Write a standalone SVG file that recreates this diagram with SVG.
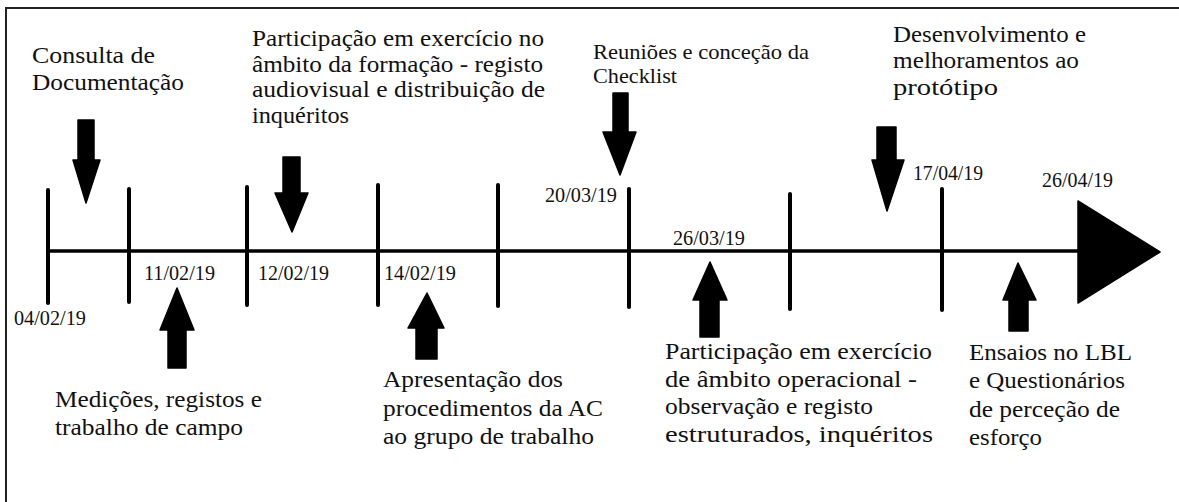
<svg xmlns="http://www.w3.org/2000/svg" width="1179" height="502" viewBox="0 0 1179 502">
<style>
text{font-family:'Liberation Serif','Times New Roman',serif;fill:#111}
.t{font-size:23px}
.s{font-size:21px}
.d{font-size:20px}
.tick{stroke:#000;stroke-width:4;stroke-linecap:round}
.arr{fill:#000;stroke:#000;stroke-width:1.5;stroke-linejoin:round}
</style>
<rect x="0" y="0" width="1179" height="502" fill="#fff"/>
<rect x="6" y="8" width="1250" height="600" fill="none" stroke="#222" stroke-width="2"/>
<g id="timeline">
<line x1="48" y1="251" x2="1082" y2="251" stroke="#000" stroke-width="3.5"/>
<line class="tick" x1="48" y1="190" x2="48" y2="303"/>
<line class="tick" x1="129" y1="189" x2="129" y2="302"/>
<line class="tick" x1="247" y1="187" x2="247" y2="305"/>
<line class="tick" x1="378" y1="185" x2="378" y2="305"/>
<line class="tick" x1="498" y1="185" x2="498" y2="306"/>
<line class="tick" x1="629" y1="189" x2="629" y2="307"/>
<line class="tick" x1="790" y1="194" x2="790" y2="309"/>
<line class="tick" x1="942" y1="189" x2="942" y2="310"/>
<polygon points="1078,201 1160,252 1078,303" fill="#000" stroke="#000" stroke-width="1.5" stroke-linejoin="round"/>
</g>
<g id="connectors">
<polygon class="arr" points="78,120 94,120 94,160 100,160 86,203 73,160 78,160"/>
<polygon class="arr" points="283,157 300,157 300,193 308,193 292,232 275,193 283,193"/>
<polygon class="arr" points="613,93 628,93 628,132 636,132 620,175 603,132 613,132"/>
<polygon class="arr" points="877,127 896,127 896,160 904,160 887,211 872,160 877,160"/>
<polygon class="arr" points="177,288 194,330 186,330 186,368 168,368 168,330 160,330"/>
<polygon class="arr" points="427,293 444,328 437,328 437,359 416,359 416,328 408,328"/>
<polygon class="arr" points="710,262 727,300 719,300 719,337 700,337 700,300 693,300"/>
<polygon class="arr" points="1018,263 1036,300 1028,300 1028,331 1009,331 1009,300 1003,300"/>
</g>
<g id="consulta">
<text class="t" x="32" y="63" textLength="123" lengthAdjust="spacingAndGlyphs">Consulta de</text>
<text class="t" x="32" y="90" textLength="152" lengthAdjust="spacingAndGlyphs">Documentação</text>
</g>
<g id="formacao">
<text class="t" x="252" y="46" textLength="292" lengthAdjust="spacingAndGlyphs">Participação em exercício no</text>
<text class="t" x="252" y="72" textLength="291" lengthAdjust="spacingAndGlyphs">âmbito da formação - registo</text>
<text class="t" x="252" y="97" textLength="293" lengthAdjust="spacingAndGlyphs">audiovisual e distribuição de</text>
<text class="t" x="252" y="123" textLength="97" lengthAdjust="spacingAndGlyphs">inquéritos</text>
</g>
<g id="reunioes">
<text class="s" x="593" y="59" textLength="216" lengthAdjust="spacingAndGlyphs">Reuniões e conceção da</text>
<text class="s" x="593" y="83" textLength="84" lengthAdjust="spacingAndGlyphs">Checklist</text>
</g>
<g id="desenvolvimento">
<text class="t" x="893" y="42" textLength="193" lengthAdjust="spacingAndGlyphs">Desenvolvimento e</text>
<text class="t" x="893" y="68" textLength="186" lengthAdjust="spacingAndGlyphs">melhoramentos ao</text>
<text class="t" x="893" y="95" textLength="105" lengthAdjust="spacingAndGlyphs">protótipo</text>
</g>
<g id="medicoes">
<text class="t" x="55" y="407" textLength="207" lengthAdjust="spacingAndGlyphs">Medições, registos e</text>
<text class="t" x="55" y="435" textLength="188" lengthAdjust="spacingAndGlyphs">trabalho de campo</text>
</g>
<g id="apresentacao">
<text class="t" x="383" y="387" textLength="180" lengthAdjust="spacingAndGlyphs">Apresentação dos</text>
<text class="t" x="383" y="416" textLength="220" lengthAdjust="spacingAndGlyphs">procedimentos da AC</text>
<text class="t" x="383" y="444" textLength="211" lengthAdjust="spacingAndGlyphs">ao grupo de trabalho</text>
</g>
<g id="operacional">
<text class="t" x="665" y="359" textLength="267" lengthAdjust="spacingAndGlyphs">Participação em exercício</text>
<text class="t" x="665" y="387" textLength="252" lengthAdjust="spacingAndGlyphs">de âmbito operacional -</text>
<text class="t" x="665" y="414" textLength="208" lengthAdjust="spacingAndGlyphs">observação e registo</text>
<text class="t" x="665" y="442" textLength="268" lengthAdjust="spacingAndGlyphs">estruturados, inquéritos</text>
</g>
<g id="ensaios">
<text class="t" x="969" y="360" textLength="163" lengthAdjust="spacingAndGlyphs">Ensaios no LBL</text>
<text class="t" x="969" y="388" textLength="156" lengthAdjust="spacingAndGlyphs">e Questionários</text>
<text class="t" x="969" y="417" textLength="151" lengthAdjust="spacingAndGlyphs">de perceção de</text>
<text class="t" x="969" y="445" textLength="73" lengthAdjust="spacingAndGlyphs">esforço</text>
</g>
<g id="dates">
<text class="d" x="14" y="325" textLength="72" lengthAdjust="spacingAndGlyphs">04/02/19</text>
<text class="d" x="144" y="280" textLength="71" lengthAdjust="spacingAndGlyphs">11/02/19</text>
<text class="d" x="258" y="280" textLength="71" lengthAdjust="spacingAndGlyphs">12/02/19</text>
<text class="d" x="384" y="280" textLength="72" lengthAdjust="spacingAndGlyphs">14/02/19</text>
<text class="d" x="545" y="202" textLength="72" lengthAdjust="spacingAndGlyphs">20/03/19</text>
<text class="d" x="673" y="245" textLength="72" lengthAdjust="spacingAndGlyphs">26/03/19</text>
<text class="d" x="913" y="180" textLength="70" lengthAdjust="spacingAndGlyphs">17/04/19</text>
<text class="d" x="1042" y="187" textLength="71" lengthAdjust="spacingAndGlyphs">26/04/19</text>
</g>
</svg>
